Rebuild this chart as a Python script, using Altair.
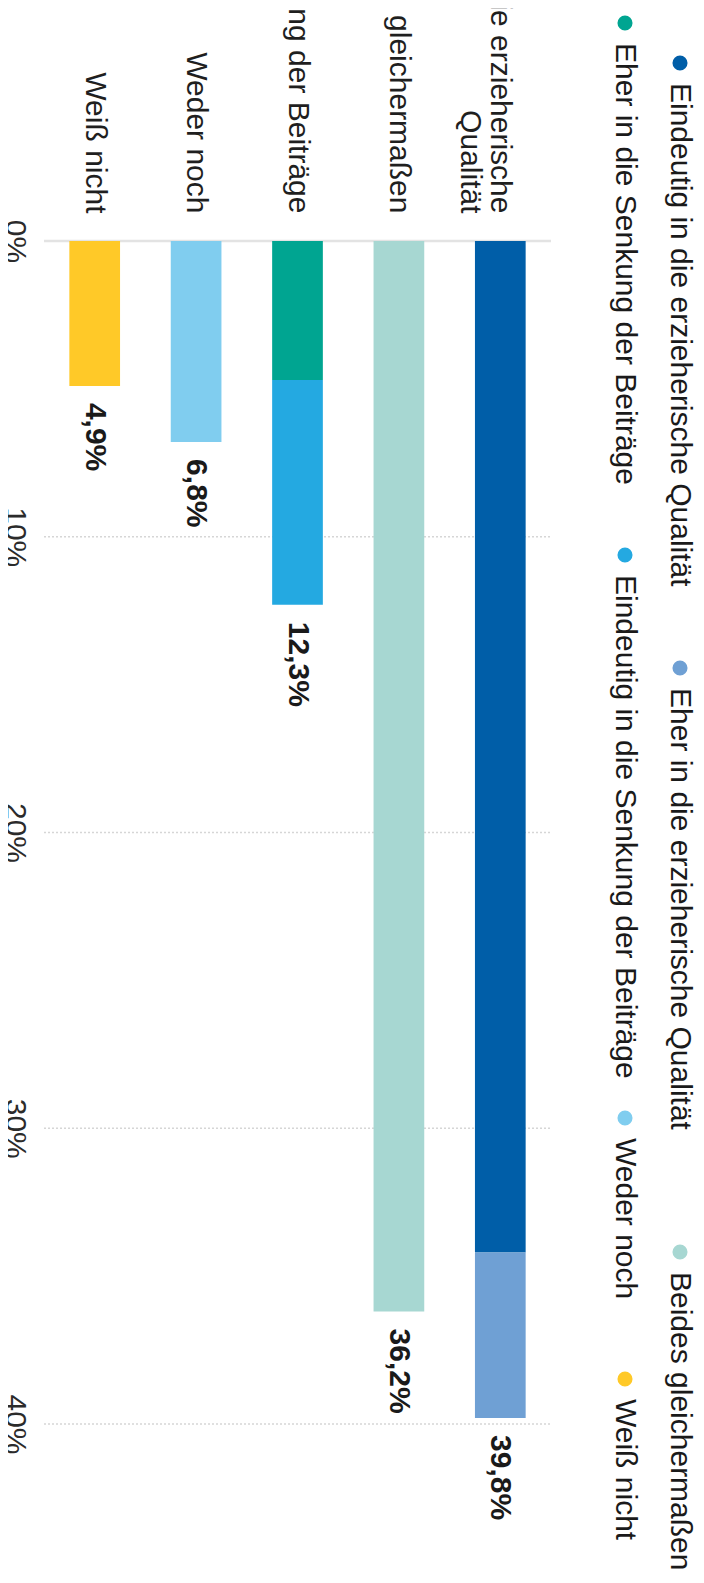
import altair as alt
import pandas as pd

# ---------------- data ----------------
CATEGORIES = [
    "In die erzieherische Qualität",
    "Beides gleichermaßen",
    "In die Senkung der Beiträge",
    "Weder noch",
    "Weiß nicht",
]

SERIES = [
    "Eindeutig in die erzieherische Qualität",
    "Eher in die erzieherische Qualität",
    "Beides gleichermaßen",
    "Eher in die Senkung der Beiträge",
    "Eindeutig in die Senkung der Beiträge",
    "Weder noch",
    "Weiß nicht",
]
COLORS = ["#005EA8", "#6FA0D4", "#A7D7D2", "#00A591", "#24A9E1", "#80CDEF", "#FFC928"]

SEG_CATEGORY = [
    "In die erzieherische Qualität",
    "In die erzieherische Qualität",
    "Beides gleichermaßen",
    "In die Senkung der Beiträge",
    "In die Senkung der Beiträge",
    "Weder noch",
    "Weiß nicht",
]
SEG_SERIES = [
    "Eindeutig in die erzieherische Qualität",
    "Eher in die erzieherische Qualität",
    "Beides gleichermaßen",
    "Eher in die Senkung der Beiträge",
    "Eindeutig in die Senkung der Beiträge",
    "Weder noch",
    "Weiß nicht",
]
SEG_VALUES = [34.2, 5.6, 36.2, 4.7, 7.6, 6.8, 4.9]
SEG_ORDER = [1, 2, 1, 1, 2, 1, 1]

TOTALS = [39.8, 36.2, 12.3, 6.8, 4.9]
TOTAL_LABELS = ["39,8%", "36,2%", "12,3%", "6,8%", "4,9%"]

TICKS = [0, 10, 20, 30, 40]

# legend layout (two rows, rotated)
LEGEND_ROW = [1, 1, 1, 2, 2, 2, 2]

# ---------------- layout ----------------
W, H = 507, 1183
FONT = "Liberation Sans"
FS = 30
ROW_X = {1: 636, 2: 581}
LEGEND_Y = [-178, 427, 1011, -218, 314, 877, 1138]

seg_df = pd.DataFrame({"cat": SEG_CATEGORY, "series": SEG_SERIES,
                       "value": SEG_VALUES, "ord": SEG_ORDER})
tot_df = pd.DataFrame({"cat": CATEGORIES, "total": TOTALS, "label": TOTAL_LABELS})
grid_df = pd.DataFrame({"t": TICKS})
leg_df = pd.DataFrame({"series": SERIES,
                       "lx": [ROW_X[r] for r in LEGEND_ROW],
                       "ly": LEGEND_Y})

color_scale = alt.Scale(domain=SERIES, range=COLORS)
x_scale = alt.Scale(domain=CATEGORIES[::-1], paddingInner=0.5, paddingOuter=0.25)
y_scale = alt.Scale(domain=[0, 40], reverse=True, nice=False, zero=True)

label_expr = ("datum.label == 'In die erzieherische Qualität' ? "
              "['In die erzieherische', 'Qualität'] : datum.label")

grid_dotted = alt.Chart(grid_df).transform_filter("datum.t > 0").mark_rule(
    color="#d6d6d6", strokeWidth=1.5, strokeDash=[2, 2]
).encode(
    x=alt.value(0), x2=alt.value(W),
    y=alt.Y("t:Q", scale=y_scale, axis=alt.Axis(
        values=TICKS, labelExpr="datum.value + '%'", orient="left",
        labelAngle=90, labelAlign="center", labelBaseline="top",
        labelPadding=15, labelFont=FONT, labelFontSize=FS, labelColor="#2b2b2b",
        ticks=False, domain=False, grid=False, title=None)),
)

grid_zero = alt.Chart(grid_df).transform_filter("datum.t == 0").mark_rule(
    color="#e3e3e3", strokeWidth=2.5
).encode(
    x=alt.value(0), x2=alt.value(W),
    y=alt.Y("t:Q", scale=y_scale),
)

bars = alt.Chart(seg_df).mark_bar().encode(
    x=alt.X("cat:N", scale=x_scale, sort=CATEGORIES[::-1], axis=alt.Axis(
        orient="top", labelAngle=90, labelAlign="right", labelBaseline="middle",
        labelPadding=28, labelFont=FONT, labelFontSize=FS, labelColor="#1f1f1f",
        labelLimit=0, labelOverlap=False, labelBound=False, labelLineHeight=30,
        labelExpr=label_expr, ticks=False, domain=False, title=None)),
    y=alt.Y("value:Q", scale=y_scale, stack="zero"),
    color=alt.Color("series:N", scale=color_scale, legend=None),
    order=alt.Order("ord:Q"),
)

labels = alt.Chart(tot_df).mark_text(
    angle=90, align="left", baseline="middle", dx=17,
    font=FONT, fontSize=FS, fontWeight="bold", color="#1a1a1a"
).encode(
    x=alt.X("cat:N", scale=x_scale, sort=CATEGORIES[::-1]),
    y=alt.Y("total:Q", scale=y_scale),
    text="label:N",
)

leg_dots = alt.Chart(leg_df).mark_circle(size=227, opacity=1).encode(
    x=alt.X("lx:Q", scale=None),
    y=alt.Y("ly:Q", scale=None),
    color=alt.Color("series:N", scale=color_scale, legend=None),
)

leg_text = alt.Chart(leg_df).mark_text(
    angle=90, align="left", baseline="middle", dx=20,
    font=FONT, fontSize=FS, color="#1a1a1a"
).encode(
    x=alt.X("lx:Q", scale=None),
    y=alt.Y("ly:Q", scale=None),
    text="series:N",
)

chart = alt.layer(
    grid_dotted, grid_zero, bars, labels, leg_dots, leg_text
).properties(
    width=W, height=H,
    autosize=alt.AutoSizeParams(type="none"),
    padding={"left": 36, "top": 233, "right": 145, "bottom": 150},
).configure_view(stroke=None)

chart.save("out.html", embed_options={"renderer": "svg", "actions": False})
